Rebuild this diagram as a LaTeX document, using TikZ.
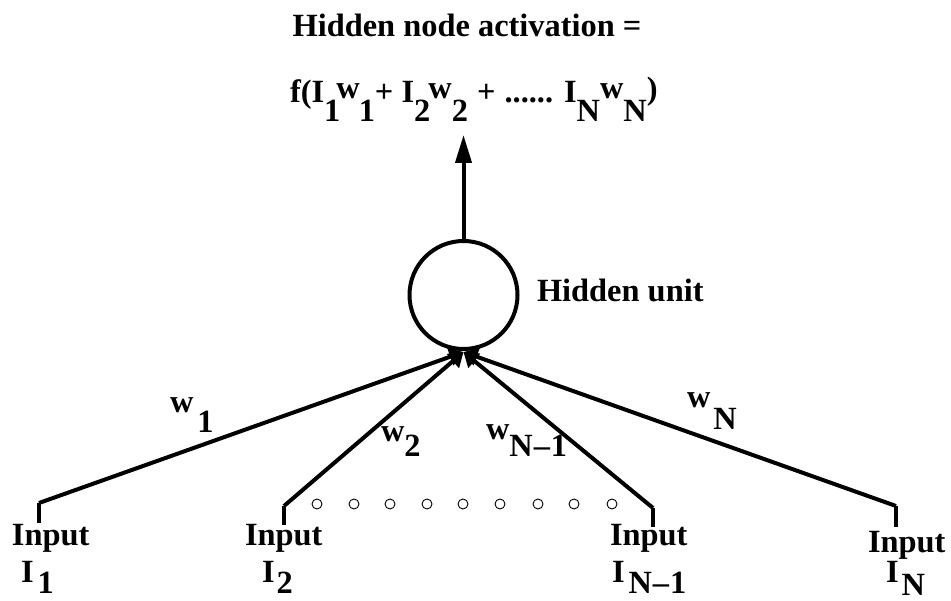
\documentclass[tikz,border=0pt]{standalone}
\usepackage{fontspec}
\setmainfont{Liberation Serif}
\usetikzlibrary{arrows.meta}
\newcommand\dnbox[2][19pt]{\raisebox{-#1}{#2}}
\newcommand\upbox[2][4pt]{\raisebox{#1}{#2}}
\begin{document}
\begin{tikzpicture}[x=1pt,y=1pt,
  txt/.style={inner sep=0pt,outer sep=0pt,font=\bfseries\fontsize{32.4}{38}\selectfont},
  wire/.style={line width=4pt,-{Triangle[length=14pt,width=18pt]}},
  tick/.style={line width=4pt},
  dotc/.style={draw,circle,line width=0.9pt,minimum size=10pt,inner sep=0pt}]
\useasboundingbox (0,0) rectangle (951,-601);
% title
\node[txt,anchor=base] (title) at (467,-37) {Hidden node activation =};
\node[txt,anchor=base west] (formula) at (290,-103)
  {f(I\dnbox{1}\kern-4pt\upbox{w}\kern-1pt\dnbox{1}+ I\dnbox{2}\kern-2pt\upbox{w}\dnbox{2}\kern1pt{} + \kern1pt...... I\dnbox{N}\upbox{w}\dnbox{N}\upbox[3pt]{)}};
% hidden unit
\node[draw,circle,line width=4pt,minimum size=108pt,inner sep=0pt,outer sep=2pt] (h) at (463.5,-295) {};
\node[txt,anchor=base west] (hl) at (537,-302) {Hidden unit};
\coordinate (top) at (463.5,-135);
\draw[line width=4pt,-{Triangle[length=28pt,width=16pt]}] (h.north) -- (top);
\coordinate (hb) at (463.5,-352);
% inputs
\coordinate (a1) at (39,-503);  \coordinate (b1) at (39,-523);
\coordinate (a2) at (284,-506); \coordinate (b2) at (284,-525);
\coordinate (a3) at (653,-508); \coordinate (b3) at (653,-527);
\coordinate (a4) at (896,-506); \coordinate (b4) at (896,-527);
\draw[tick] (b1) -- (a1); \draw[wire] (a1) -- (hb);
\draw[tick] (b2) -- (a2); \draw[wire] (a2) -- (hb);
\draw[tick] (b3) -- (a3); \draw[wire] (a3) -- (hb);
\draw[tick] (b4) -- (a4); \draw[wire] (a4) -- (hb);
% weight labels
\node[txt,anchor=base west] (w1) at (170,-413) {w\kern4pt\dnbox[20pt]{1}};
\node[txt,anchor=base west] (w2) at (381,-442) {w\dnbox[15pt]{2}};
\node[txt,anchor=base west] (w3) at (486,-440) {w\dnbox[17pt]{N\kern1pt--\kern1pt1}};
\node[txt,anchor=base west] (w4) at (687,-408) {w\kern3pt\dnbox[22pt]{N}};
% input labels
\node[txt,anchor=base west] (in1) at (12,-545) {Input};
\node[txt,anchor=base west] (i1) at (21,-582) {I\kern4pt\dnbox[11pt]{1}};
\node[txt,anchor=base west] (in2) at (245,-545) {Input};
\node[txt,anchor=base west] (i2) at (262,-582) {I\kern2pt\dnbox[11pt]{2}};
\node[txt,anchor=base west] (in3) at (610,-545) {Input};
\node[txt,anchor=base west] (i3) at (612,-582) {I\kern4pt\dnbox[11pt]{N\kern1pt--\kern1pt1}};
\node[txt,anchor=base west] (in4) at (868,-552) {Input};
\node[txt,anchor=base west] (i4) at (886,-582) {I\kern3pt\dnbox[13pt]{N}};
% dots
\foreach \x [count=\k] in {317,354,390,427,463,500,538,574,612}
  \node[dotc] (d\k) at (\x,-504) {};
\end{tikzpicture}
\end{document}
